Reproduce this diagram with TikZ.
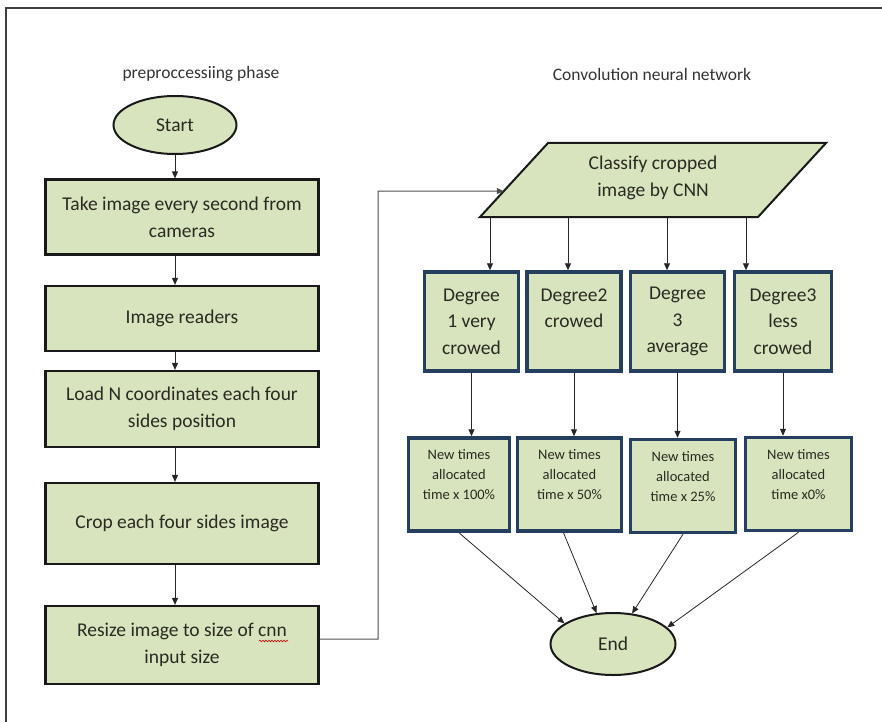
\documentclass[tikz,border=0pt]{standalone}
\usepackage{fontspec}
\setmainfont{Carlito}
\usetikzlibrary{arrows.meta,shapes.geometric,calc,decorations.pathmorphing}
\definecolor{boxfill}{HTML}{D7E4BD}
\definecolor{navy}{HTML}{243F60}
\definecolor{txt}{HTML}{2A2A22}
\begin{document}
\begin{tikzpicture}[x=1pt,y=-1pt,
  head/.style={font=\fontsize{17.5}{21}\selectfont, text=black!80},
  box/.style={draw=black!90, line width=2.2pt, fill=boxfill, minimum width=273pt,
    align=center, font=\fontsize{19.5}{27}\selectfont, text=txt, inner sep=2pt},
  dbox/.style={draw=navy, line width=3.5pt, fill=boxfill, minimum width=94pt,
    minimum height=99pt, align=center, font=\fontsize{19.5}{26.5}\selectfont, text=txt, inner sep=1pt},
  nbox/.style={draw=navy, line width=3.5pt, fill=boxfill, minimum height=93pt,
    align=center, font=\fontsize{14.5}{20}\selectfont, text=txt, inner sep=1pt},
  term/.style={ellipse, draw=black!90, line width=2pt, fill=boxfill, minimum width=123pt,
    font=\fontsize{19.5}{24}\selectfont, text=txt, inner sep=0pt},
  arr/.style={-{Triangle[length=7pt,width=6pt]}, line width=0.9pt, draw=black!85},
  thinline/.style={line width=1pt, draw=black!70},
  squiggle/.style={draw=red!80!black, line width=0.6pt, decorate,
    decoration={snake, amplitude=0.8pt, segment length=3pt}}
]
\useasboundingbox (0,0) rectangle (882,722);
% frame
\draw[line width=1.8pt, draw=black!75] (6,722) -- (6,8) -- (882,8);

% headings
\node[head] (h1) at (201,74) {preproccessiing phase};
\node[head] (h2) at (652,74) {Convolution neural network};

% left column
\node[term, minimum height=58pt] (start) at (175,125) {Start};
\node[box, minimum height=75pt] (b1) at (182,217) {Take image every second from\\cameras};
\node[box, minimum height=65pt] (b2) at (182,318.5) {Image readers};
\node[box, minimum height=76pt] (b3) at (182,409) {Load N coordinates each four\\sides position};
\node[box, minimum height=81pt] (b4) at (182,523.5) {Crop each four sides image};
\node[box, minimum height=78pt] (b5) at (182,645) {Resize image to size of cnn\\input size};
\coordinate (sqA) at (259,641);
\coordinate (sqB) at (288,641);
\draw[squiggle] (sqA) -- (sqB);

\draw[arr] (start.south) -- (start.south |- b1.north);
\draw[arr] (b1.south -| start.south) -- (b2.north -| start.south);
\draw[arr] (b2.south -| start.south) -- (b3.north -| start.south);
\draw[arr] (b3.south -| start.south) -- (b4.north -| start.south);
\draw[arr] (b4.south -| start.south) -- (b5.north -| start.south);

% parallelogram
\coordinate (pBL) at (480,217);
\coordinate (pBR) at (758,217);
\coordinate (pTR) at (826,143);
\coordinate (pTL) at (548,143);
\filldraw[fill=boxfill, draw=black!90, line width=2pt] (pBL) -- (pBR) -- (pTR) -- (pTL) -- cycle;
\node[align=center, font=\fontsize{19.5}{27}\selectfont, text=txt] (cls) at (653,178) {Classify cropped\\image by CNN};
\coordinate (pin) at ($(pBL)!0.35!(pTL)$);
\coordinate (bend) at (378,191);
\draw[thinline, -{Triangle[length=7pt,width=6pt]}] ($(b5.east)+(0,-6)$) -| (bend) -- (pin);

% degree boxes
\node[dbox] (d1) at (471.5,321.5) {Degree\\1 very\\crowed};
\node[dbox] (d2) at (574,321.5) {Degree2\\crowed\\\mbox{}};
\node[dbox] (d3) at (677.5,321.5) {Degree\\3\\average};
\node[dbox, minimum width=97pt] (d4) at (783,321.5) {Degree3\\less\\crowed};

\coordinate (p1) at (490,217);
\coordinate (p2) at (568,217);
\coordinate (p3) at (667,217);
\coordinate (p4) at (746,217);
\draw[arr] (p1) -- (p1 |- d1.north);
\draw[arr] (p2) -- (p2 |- d2.north);
\draw[arr] (p3) -- (p3 |- d3.north);
\draw[arr] (p4) -- (p4 |- d4.north);

% new time boxes
\node[nbox, minimum width=101pt] (n1) at (459,484.5) {New times\\allocated\\time x 100\%\\\mbox{}};
\node[nbox, minimum width=104pt] (n2) at (569.5,484.5) {New times\\allocated\\time x 50\%\\\mbox{}};
\node[nbox, minimum width=105pt] (n3) at (683,486) {New times\\allocated\\time x 25\%\\\mbox{}};
\node[nbox, minimum width=106pt] (n4) at (798.5,484) {New times\\allocated\\time x0\%\\\mbox{}};

\draw[arr] (d1.south) -- (d1.south |- n1.north);
\draw[arr] (d2.south) -- (d2.south |- n2.north);
\draw[arr] (d3.south) -- (d3.south |- n3.north);
\draw[arr] (d4.south) -- (d4.south |- n4.north);

% end
\node[term, minimum width=125pt, minimum height=62pt] (end) at (613,644) {End};
\draw[arr, line width=0.8pt] (n1.south) -- (end.157);
\draw[arr, line width=0.8pt] ($(n2.south)+(-6,0)$) -- (end.118);
\draw[arr, line width=0.8pt] (n3.south) -- (end.58);
\draw[arr, line width=0.8pt] (n4.south) -- (end.17);
\end{tikzpicture}
\end{document}
